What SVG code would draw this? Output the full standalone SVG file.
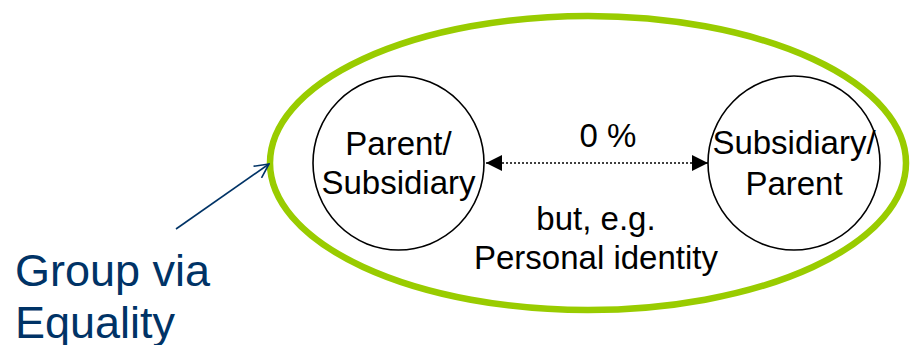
<svg xmlns="http://www.w3.org/2000/svg" width="910" height="345" viewBox="0 0 910 345">
<defs>
<style>
.lbl{font-family:"Liberation Sans",Arial,sans-serif;font-size:33px;fill:#000;text-anchor:middle}
.note{font-family:"Liberation Sans",Arial,sans-serif;font-size:45px;fill:#003366}
.node{fill:#fff;stroke:#000;stroke-width:1.6}
</style>
<marker id="tri" viewBox="0 0 16 16" refX="16" refY="8" markerWidth="16" markerHeight="16" markerUnits="userSpaceOnUse" orient="auto-start-reverse">
<path d="M0,0 L16,8 L0,16 Z" fill="#000"/>
</marker>
<marker id="open" viewBox="0 0 16 16" refX="15" refY="8" markerWidth="16" markerHeight="16" markerUnits="userSpaceOnUse" orient="auto">
<path d="M1,1 L15,8 L1,15" fill="none" stroke="#003366" stroke-width="1.6"/>
</marker>
</defs>
<rect width="910" height="345" fill="#fff"/>
<g id="group">
<ellipse cx="588" cy="163" rx="318" ry="147" fill="none" stroke="#99CC00" stroke-width="6.5"/>
</g>
<g id="node-parent">
<ellipse class="node" cx="398.5" cy="163" rx="85.5" ry="87"/>
<text class="lbl" x="398.5" y="155">Parent/</text>
<text class="lbl" x="398.5" y="194">Subsidiary</text>
</g>
<g id="node-subsidiary">
<ellipse class="node" cx="794" cy="163" rx="86" ry="87"/>
<text class="lbl" x="794" y="154">Subsidiary/</text>
<text class="lbl" x="794" y="195">Parent</text>
</g>
<g id="connectors">
<line x1="486" y1="163" x2="708" y2="163" stroke="#000" stroke-width="1.6" stroke-dasharray="2,2" marker-start="url(#tri)" marker-end="url(#tri)"/>
<line x1="176" y1="229" x2="269" y2="164" stroke="#003366" stroke-width="1.6" marker-end="url(#open)"/>
</g>
<g id="labels">
<text class="lbl" x="608" y="147">0 %</text>
<text class="lbl" x="596" y="230">but, e.g.</text>
<text class="lbl" x="596" y="269">Personal identity</text>
<text class="note" x="15" y="286">Group via</text>
<text class="note" x="15" y="338">Equality</text>
</g>
</svg>
